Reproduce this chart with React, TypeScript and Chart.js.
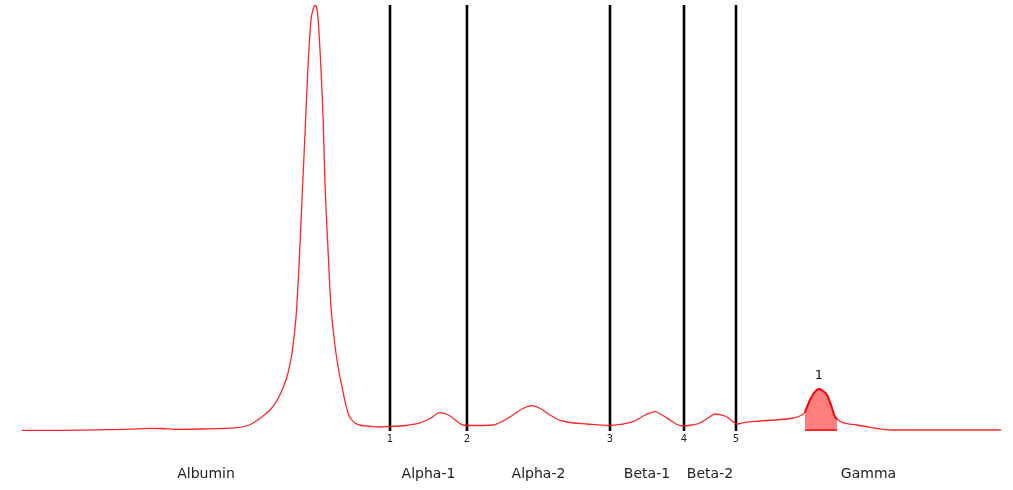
import React, { useEffect, useRef } from "react";
import { Chart, registerables } from "chart.js";

Chart.register(...registerables);

// Migration position (0..100) and relative intensity (0..100)
const positions = [
  0, 3.88, 7.97, 11.03, 13.07, 14.3, 15.63, 18.18, 21.96, 23.08, 23.8, 24.62, 25.33, 26.05, 26.66,
  27.17, 27.58, 27.99, 28.29, 28.6, 28.91, 29.21, 29.52, 29.72, 29.93, 30.08, 30.23, 30.44, 30.75,
  30.95, 31.26, 31.56, 31.87, 32.07, 32.38, 32.69, 32.99, 33.3, 33.61, 34.01, 34.63, 35.24, 36.57,
  37.59, 39.12, 40.65, 41.68, 42.7, 43.72, 44.43, 45.05, 45.76, 48.11, 49.13, 50.15, 51.07, 52.09,
  53.01, 53.93, 54.75, 55.67, 57.71, 60.06, 61.08, 62.41, 63.64, 64.66, 65.47, 66.19, 66.91, 67.52,
  68.44, 69.25, 70.07, 70.79, 71.4, 72.01, 72.52, 73.03, 73.85, 75.38, 78.75, 79.67, 79.98, 80.49,
  80.9, 81.41, 81.82, 82.23, 82.64, 83.04, 83.25, 83.86, 84.88, 85.9, 87.33, 88.66, 92.75, 96.83, 100,
];
const intensities = [
  0.12, 0.16, 0.28, 0.42, 0.63, 0.59, 0.4, 0.47, 0.77, 1.29, 2.18, 3.52, 4.93, 7.16, 10.09,
  13.62, 18.31, 26.76, 38.5, 54.23, 69.95, 85.45, 96.48, 98.83, 100, 99.53, 97.18, 89.44, 73.71,
  58.22, 42.49, 29.11, 22.07, 18.31, 13.85, 10.33, 7.04, 4.23, 2.82, 1.88, 1.29, 1.17, 0.94,
  1.06, 1.29, 1.88, 2.93, 4.3, 3.52, 2.23, 1.41, 1.29, 1.41, 2.35, 3.76, 5.16, 5.94,
  5.16, 3.76, 2.7, 2.11, 1.64, 1.29, 1.53, 2.18, 3.76, 4.53, 3.64, 2.58, 1.53, 1.17,
  1.41, 1.88, 3.05, 3.99, 3.76, 3.29, 2.35, 1.64, 2.0, 2.35, 3.05, 3.76, 4.46, 7.28,
  8.92, 9.86, 9.39, 8.45, 6.1, 3.36, 2.82, 1.95, 1.53, 1.17, 0.59, 0.23, 0.23, 0.23, 0.23,
];

const boundaries = [37.59, 45.45, 60.06, 67.62, 72.93];
const boundaryLabels = ["1", "2", "3", "4", "5"];
const fractions = ["Albumin", "Alpha-1", "Alpha-2", "Beta-1", "Beta-2", "Gamma"];
const spikeStart = 79.98;
const spikeEnd = 83.25;
const spikeLabel = "1";

export default function App() {
  const ref = useRef<HTMLCanvasElement | null>(null);

  useEffect(() => {
    document.body.style.margin = "0";
    const canvas = ref.current;
    if (!canvas) return;

    const curve = positions.map((x, i) => ({ x, y: intensities[i] }));
    const spike = curve.filter((p) => p.x >= spikeStart && p.x <= spikeEnd);
    const xMin = positions[0];
    const xMax = positions[positions.length - 1];

    const lineSets = boundaries.map((b) => ({
      data: [
        { x: b, y: 0 },
        { x: b, y: 100 },
      ],
      borderColor: "#000000",
      borderWidth: 2.6,
      pointRadius: 0,
      fill: false,
      tension: 0,
    }));

    const textPlugin = {
      id: "texts",
      afterDatasetsDraw(chart: any) {
        const { ctx, chartArea, scales } = chart;
        const xs = scales.x;
        const ys = scales.y;
        ctx.save();
        ctx.textAlign = "center";
        ctx.textBaseline = "middle";
        ctx.fillStyle = "#222222";
        ctx.font = "10px 'DejaVu Sans'";
        boundaries.forEach((b, i) => {
          ctx.fillText(boundaryLabels[i], xs.getPixelForValue(b), chartArea.bottom + 8);
        });
        ctx.font = "14px 'DejaVu Sans'";
        const edges = [xMin, ...boundaries, xMax];
        fractions.forEach((f, i) => {
          const cx = (xs.getPixelForValue(edges[i]) + xs.getPixelForValue(edges[i + 1])) / 2;
          ctx.fillText(f, cx, chartArea.bottom + 43);
        });
        let top = spike[0];
        spike.forEach((p) => {
          if (p.y > top.y) top = p;
        });
        ctx.font = "13px 'DejaVu Sans'";
        ctx.fillStyle = "#111111";
        ctx.fillText(spikeLabel, xs.getPixelForValue(top.x), ys.getPixelForValue(top.y) - 13);
        ctx.restore();
      },
    };

    const chart = new Chart(canvas, {
      type: "line",
      data: {
        datasets: [
          {
            data: curve,
            borderColor: "rgba(255,0,0,0.85)",
            borderWidth: 1.3,
            pointRadius: 0,
            fill: false,
            cubicInterpolationMode: "monotone",
          },
          {
            data: spike,
            borderColor: "rgba(255,0,0,0.95)",
            backgroundColor: "rgba(255,0,0,0.5)",
            borderWidth: 2,
            pointRadius: 0,
            fill: "origin",
            cubicInterpolationMode: "monotone",
          },
          {
            data: [
              { x: spikeStart, y: 0.2 },
              { x: spikeEnd, y: 0.2 },
            ],
            borderColor: "rgba(255,0,0,0.8)",
            borderWidth: 2,
            pointRadius: 0,
            fill: false,
          },
          ...lineSets,
        ] as any,
      },
      options: {
        animation: false,
        responsive: true,
        maintainAspectRatio: false,
        layout: { padding: { left: 22, right: 12, top: 5, bottom: 59 } },
        plugins: { legend: { display: false }, tooltip: { enabled: false } },
        scales: {
          x: { type: "linear", min: xMin, max: xMax, display: false },
          y: { type: "linear", min: 0, max: 100, display: false },
        },
      },
      plugins: [textPlugin],
    });

    return () => chart.destroy();
  }, []);

  return (
    <div style={{ width: 1013, height: 490, position: "relative" }}>
      <canvas ref={ref} />
    </div>
  );
}
